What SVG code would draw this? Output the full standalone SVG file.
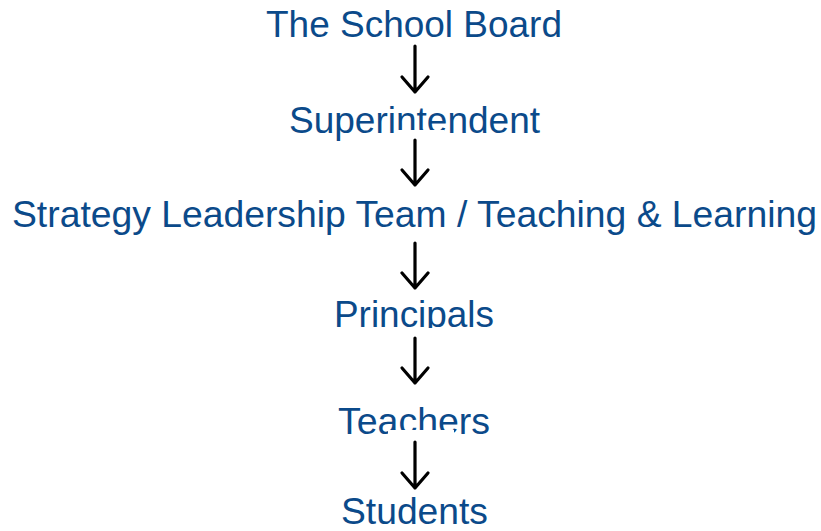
<svg xmlns="http://www.w3.org/2000/svg" width="821" height="531" viewBox="0 0 821 531">
<style>
.t{font-family:"Liberation Sans",Arial,sans-serif;font-size:36px;fill:#0b4a8a;text-anchor:start}
.bg{fill:#ffffff}
.ar{fill:none;stroke:#000;stroke-width:3.2;stroke-linecap:round;stroke-linejoin:round}
</style>
<rect width="821" height="531" fill="#ffffff"/>
<g id="board"><text class="t" x="266" y="37" textLength="296" lengthAdjust="spacingAndGlyphs">The School Board</text></g>
<g id="superintendent"><text class="t" x="289" y="133" textLength="251" lengthAdjust="spacingAndGlyphs">Superintendent</text></g>
<g id="strategy"><text class="t" x="12" y="227" textLength="805" lengthAdjust="spacingAndGlyphs">Strategy Leadership Team / Teaching &amp; Learning</text></g>
<g id="principals"><text class="t" x="334" y="327" textLength="160" lengthAdjust="spacingAndGlyphs">Principals</text></g>
<g id="teachers"><text class="t" x="338" y="434" textLength="152" lengthAdjust="spacingAndGlyphs">Teachers</text></g>
<g id="students"><text class="t" x="341" y="524" textLength="147" lengthAdjust="spacingAndGlyphs">Students</text></g>
<g id="connectors">
<rect class="bg" x="398" y="42" width="46" height="56"/>
<path class="ar" d="M415,46 V92 M402,77 L415,92 L428,77"/>
<rect class="bg" x="398" y="130" width="46" height="61"/>
<path class="ar" d="M415,140 V185 M402,170 L415,185 L428,170"/>
<rect class="bg" x="398" y="233" width="46" height="62"/>
<path class="ar" d="M415,243 V288 M402,273 L415,288 L428,273"/>
<rect class="bg" x="398" y="328" width="46" height="62"/>
<path class="ar" d="M415,338 V383 M402,368 L415,383 L428,368"/>
<rect class="bg" x="388" y="430" width="66" height="60"/>
<path class="ar" d="M415,442 V488 M402,473 L415,488 L428,473"/>
</g>
</svg>
